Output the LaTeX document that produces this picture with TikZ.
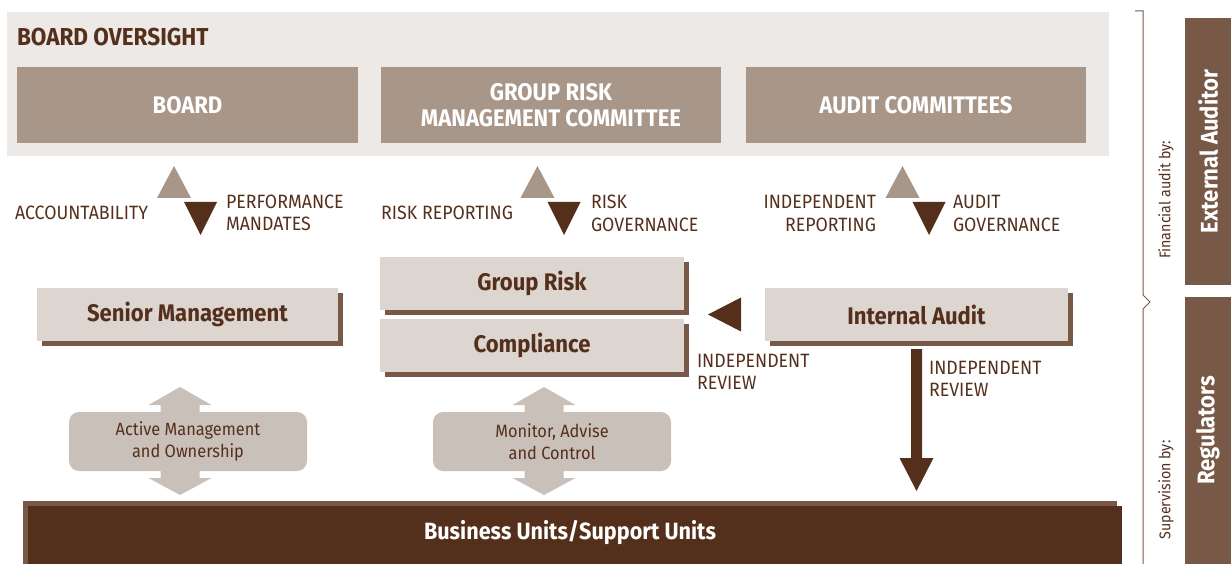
\documentclass[tikz,border=0pt]{standalone}
\usepackage{fontspec}
\usetikzlibrary{shadows,calc}
\newfontfamily\rgfam{Fira Sans}[FakeStretch=0.92]
\newfontfamily\bdfam{Fira Sans}[FakeStretch=0.92]
\newcommand\bdf{\bdfam\bfseries}
\definecolor{panelc}{HTML}{EDE9E6}
\definecolor{midbox}{HTML}{A89689}
\definecolor{lightboxc}{HTML}{DDD5D0}
\definecolor{shadowbr}{HTML}{785948}
\definecolor{darkbr}{HTML}{54301C}
\definecolor{pale}{HTML}{CAC0BA}
\tikzset{
  every node/.style={inner sep=0pt, outer sep=0pt},
  topbox/.style={fill=midbox, text=white, minimum height=76pt, anchor=north west,
    align=center, font=\bdf\fontsize{24}{26}\selectfont},
  lbox/.style={fill=lightboxc, text=darkbr, minimum height=53pt, anchor=north west,
    font=\bdf\fontsize{24}{26}\selectfont,
    drop shadow={shadow xshift=5pt, shadow yshift=-5pt, fill=shadowbr, opacity=1}},
  lab/.style={text=darkbr, font=\rgfam\fontsize{19.3}{22}\selectfont},
  rbox/.style={fill=pale, rounded corners=10pt, minimum width=238pt, minimum height=59pt,
    anchor=north west, align=center, text=darkbr, font=\rgfam\fontsize{17.8}{21.5}\selectfont},
  sidebox/.style={fill=shadowbr, text=white, rotate=90, minimum width=267pt, minimum height=46pt,
    font=\bdf\fontsize{24}{26}\selectfont},
  sidelab/.style={text=darkbr, rotate=90, font=\rgfam\fontsize{15.5}{18}\selectfont},
  updown/.pic={
    \fill[midbox] (-30.5,55) -- (-13.5,23) -- (3.5,55) -- cycle;
    \fill[darkbr] (-3.5,59) -- (29.5,59) -- (13,92) -- cycle;
  },
  dblarrow/.pic={
    \fill[pale] (0,0) -- (31.5,18) -- (19.5,18) -- (19.5,91) -- (31.5,91) -- (0,108)
      -- (-31.5,91) -- (-19.5,91) -- (-19.5,18) -- (-31.5,18) -- cycle;
  }
}
\begin{document}
\begin{tikzpicture}[x=1pt,y=-1pt]
\useasboundingbox (0,0) rectangle (1231,564);
% board oversight panel
\node[fill=panelc, anchor=north west, minimum width=1102pt, minimum height=144pt] (panel) at (7,12) {};
\node[anchor=base west, text=darkbr, font=\bdf\fontsize{24.5}{26}\selectfont] (heading) at (17,46) {BOARD OVERSIGHT};
\node[topbox, minimum width=341pt] (board) at (17,67) {BOARD};
\node[topbox, minimum width=340pt] (grmc) at (381,67) {GROUP RISK\\MANAGEMENT COMMITTEE};
\node[topbox, minimum width=340pt] (audcom) at (746,67) {AUDIT COMMITTEES};
% triangles
\pic at (board.south) {updown};
\pic at (grmc.south) {updown};
\pic at (audcom.south) {updown};
% labels (base = baseline of last line)
\node[lab, anchor=base east] (acc) at (148,219) {ACCOUNTABILITY};
\node[lab, anchor=base west, align=left] (perf) at (226,230) {PERFORMANCE\\MANDATES};
\node[lab, anchor=base east] (rrep) at (513,219) {RISK REPORTING};
\node[lab, anchor=base west, align=left] (rgov) at (591,231) {RISK\\GOVERNANCE};
\node[lab, anchor=base east, align=right] (irep) at (876,231) {INDEPENDENT\\REPORTING};
\node[lab, anchor=base west, align=left] (agov) at (953,231) {AUDIT\\GOVERNANCE};
% middle boxes
\node[lbox, minimum width=301pt] (senior) at (37,288) {Senior Management};
\node[lbox, minimum width=304pt] (grouprisk) at (380,257) {Group Risk};
\node[lbox, minimum width=304pt] (compliance) at (380,319) {Compliance};
\node[lbox, minimum width=303pt] (internal) at (765,288) {Internal Audit};
% left pointing triangle
\fill[darkbr] ($(internal.west)+(-57,0)$) -- ($(internal.west)+(-24,-17)$) -- ($(internal.west)+(-24,17)$) -- cycle;
\node[lab, anchor=base west, align=left] (irev1) at (697,389) {INDEPENDENT\\REVIEW};
% business bar
\fill[shadowbr] (23,501) rectangle (1117,564);
\fill[darkbr] (28,506) rectangle (1122,564);
\node[anchor=north west, minimum width=1094pt, minimum height=63pt, text=white,
  font=\bdf\fontsize{23.5}{26}\selectfont] (business) at (23,501) {Business Units/Support Units};
% down arrow from internal audit
\coordinate (ia) at ($(internal.south)+(0,8)$);
\coordinate (tip) at (ia |- 0,491);
\fill[darkbr] ($(ia)+(-5.5,0)$) -- ($(ia)+(5.5,0)$) -- ($(tip)+(5.5,-33)$) -- ($(tip)+(17,-33)$)
  -- (tip) -- ($(tip)+(-17,-33)$) -- ($(tip)+(-5.5,-33)$) -- cycle;
\node[lab, anchor=base west, align=left] (irev2) at (929,396) {INDEPENDENT\\REVIEW};
% double arrows and rounded boxes
\pic at (180,387) {dblarrow};
\pic at (544,387) {dblarrow};
\node[rbox] (amo) at (69,412) {Active Management\\and Ownership};
\node[rbox] (mac) at (433,412) {Monitor, Advise\\and Control};
% right side
\draw[shadowbr, line width=1pt] (1135,11) -- (1143,11) -- (1143,295) -- (1150,302) -- (1143,309) -- (1143,564);
\node[sidebox] (ext) at (1208,151.5) {External Auditor};
\node[sidebox] (reg) at (1208,430.5) {Regulators};
\node[sidelab] (fin) at (1166,200) {Financial audit by:};
\node[sidelab] (sup) at (1166,490) {Supervision by:};
\end{tikzpicture}
\end{document}
